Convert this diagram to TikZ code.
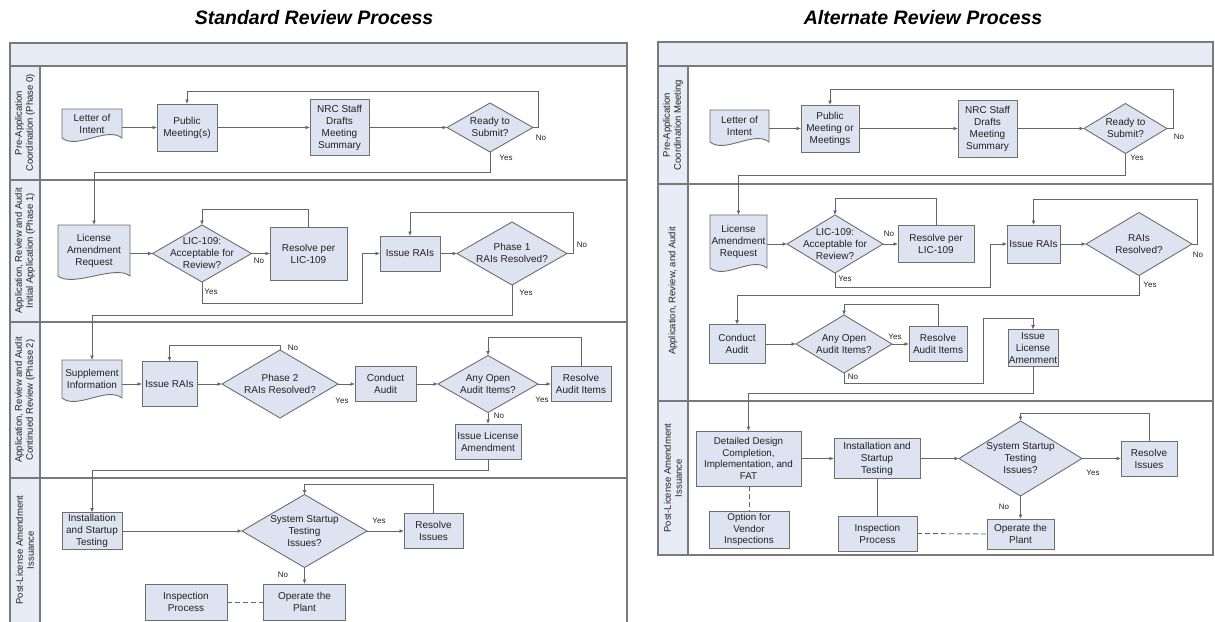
\documentclass[tikz,border=0pt]{standalone}
\usepackage{fontspec}
\setmainfont{Liberation Sans}
\usetikzlibrary{shapes.geometric,arrows.meta,calc}
\definecolor{boxc}{HTML}{DDE3F0}
\definecolor{hdrc}{HTML}{E8ECF6}
\definecolor{bordc}{HTML}{6E6E6E}
\definecolor{lanec}{HTML}{7A7A7A}
\definecolor{linec}{HTML}{666666}
\definecolor{txtc}{HTML}{222222}
\pgfdeclarelayer{lanes}
\pgfdeclarelayer{shapes}
\pgfsetlayers{lanes,shapes,main}
\newcommand{\zt}[1]{\smash{\raisebox{-3.5pt}{\makebox[0pt]{\begin{tabular}{@{}c@{}}#1\end{tabular}}}}}
\newcommand{\docshape}[1]{%
  \begin{pgfonlayer}{shapes}
  \filldraw[docline] (#1.north west) -- (#1.north east) -- (#1.south east)
    .. controls +(-15,-12) and +(15,12) .. (#1.south west) -- cycle;
  \end{pgfonlayer}}
\tikzset{
  txt/.style={font=\fontsize{10}{12}\selectfont, text=txtc},
  sz/.style 2 args={minimum width=#1, minimum height=#2},
  box/.style={txt, draw=bordc, fill=boxc, line width=0.9pt, align=center, inner sep=0pt, outer sep=0pt},
  dia/.style={txt, diamond, draw=bordc, fill=boxc, line width=0.9pt, inner sep=0pt, outer sep=0pt},
  doc/.style={txt, align=center, inner sep=0pt, outer sep=0pt},
  docline/.style={draw=bordc, fill=boxc, line width=0.9pt},
  conn/.style={draw=linec, line width=0.9pt},
  arr/.style={conn, -{Latex[length=4.5pt,width=4pt]}},
  dashln/.style={conn, dash pattern=on 5pt off 3pt},
  lbl/.style={font=\fontsize{8}{9}\selectfont, text=txtc, inner sep=0pt},
  lanetxt/.style={font=\fontsize{9.5}{11}\selectfont, text=txtc, rotate=90, align=center, inner sep=0pt},
  ttl/.style={font=\fontsize{19.5}{22}\selectfont\bfseries\itshape, text=black},
  laneln/.style={draw=lanec, line width=1.4pt},
}
\begin{document}
\begin{tikzpicture}[x=1pt,y=-1pt]
\useasboundingbox (0,0) rectangle (1215,621);
% ---------- lanes ----------
\begin{pgfonlayer}{lanes}
\fill[white] (0,0) rectangle (1215,621);
\fill[hdrc] (10,43) rectangle (627,66);
\fill[hdrc] (10,66) rectangle (40,623);
\draw[laneln] (10,623) -- (10,43) -- (627,43) -- (627,623);
\foreach \yy in {66,180,322,478} \draw[laneln] (10,\yy) -- (627,\yy);
\draw[laneln] (40,66) -- (40,623);
\fill[hdrc] (658,42) rectangle (1213,66);
\fill[hdrc] (658,66) rectangle (688,555);
\draw[laneln] (658,42) rectangle (1213,555);
\foreach \yy in {66,184,401} \draw[laneln] (658,\yy) -- (1213,\yy);
\draw[laneln] (688,66) -- (688,555);
\end{pgfonlayer}
% ---------- titles ----------
\node[ttl] (t1) at (314,18) {Standard Review Process};
\node[ttl] (t2) at (923,18) {Alternate Review Process};
% ---------- lane labels ----------
\node[lanetxt] (ll0) at (25,123) {Pre-Application\\Coordination (Phase 0)};
\node[lanetxt] (ll1) at (25,251) {Application, Review and Audit\\Initial Application (Phase 1)};
\node[lanetxt] (ll2) at (25,400) {Application, Review and Audit\\Continued Review (Phase 2)};
\node[lanetxt] (ll3) at (25,550) {Post-License Amendment\\Issuance};
\node[lanetxt] (rl0) at (673,125) {Pre-Application\\Coordination Meeting};
\node[lanetxt] (rl1) at (673,291) {Application, Review, and Audit};
\node[lanetxt] (rl2) at (673,478) {Post-License Amendment\\Issuance};
% ---------- left: phase 0 ----------
\node[doc, sz={60}{29}] (L0) at (92,123.5) {Letter of\\Intent};
\node[box, sz={60}{47}] (P0) at (187,127.5) {Public\\Meeting(s)};
\node[box, sz={59}{56}] (N0) at (339.5,127.5) {NRC Staff\\Drafts\\Meeting\\Summary};
\node[dia, sz={86}{49}] (R0) at (490,127.5) {\zt{Ready to\\Submit?}};
\node[lbl] (n0) at (541,138) {No};
\node[lbl] (y0) at (506,158) {Yes};
% ---------- left: phase 1 ----------
\node[doc, sz={72}{51}] (L1) at (94,250.5) {License\\Amendment\\Request};
\node[dia, sz={99}{57}] (D1) at (202,253.5) {\zt{LIC-109:\\Acceptable for\\Review?}};
\node[box, sz={77}{53}] (RL1) at (308.5,253.5) {Resolve per\\LIC-109};
\node[box, sz={60}{35}] (IR1) at (410,253.5) {Issue RAIs};
\node[dia, sz={110}{63}] (D2) at (512,253.5) {\zt{Phase 1\\RAIs Resolved?}};
\node[lbl] (n1) at (259,261) {No};
\node[lbl] (y1) at (211,292) {Yes};
\node[lbl] (n2) at (582,245) {No};
\node[lbl] (y2) at (526,293) {Yes};
% ---------- left: phase 2 ----------
\node[doc, sz={60}{38}] (L2) at (92,379) {Supplement\\Information};
\node[box, sz={55}{45}] (IR2) at (169.5,384) {Issue RAIs};
\node[dia, sz={116}{68}] (D3) at (280,384) {\zt{Phase 2\\RAIs Resolved?}};
\node[box, sz={61}{35}] (CA) at (385.5,384) {Conduct\\Audit};
\node[dia, sz={100}{57}] (D4) at (488,384) {\zt{Any Open\\Audit Items?}};
\node[box, sz={60}{35}] (RA) at (581,384) {Resolve\\Audit Items};
\node[box, sz={66}{35}] (IL) at (488,441.5) {Issue License\\Amendment};
\node[lbl] (n3) at (293,348) {No};
\node[lbl] (y3) at (342,401) {Yes};
\node[lbl] (y4) at (542,400) {Yes};
\node[lbl] (n4) at (499,416) {No};
% ---------- left: post ----------
\node[box, sz={60}{37}] (IS) at (92,531) {Installation\\and Startup\\Testing};
\node[dia, sz={125}{73}] (D5) at (304.5,531) {\zt{System Startup\\Testing\\Issues?}};
\node[box, sz={59}{35}] (RI) at (433.5,531) {Resolve\\Issues};
\node[box, sz={82}{36}] (OP) at (304.5,602) {Operate the\\Plant};
\node[box, sz={82}{36}] (IP) at (186,602) {Inspection\\Process};
\node[lbl] (y5) at (379,521) {Yes};
\node[lbl] (n5) at (283,575) {No};
% ---------- right: phase 0 ----------
\node[doc, sz={59}{32}] (rL0) at (739.5,126) {Letter of\\Intent};
\node[box, sz={58}{47}] (rP0) at (830,128.5) {Public\\Meeting or\\Meetings};
\node[box, sz={59}{57}] (rN0) at (987.5,128.5) {NRC Staff\\Drafts\\Meeting\\Summary};
\node[dia, sz={83}{50}] (rR0) at (1125.5,128.5) {\zt{Ready to\\Submit?}};
\node[lbl] (rn0) at (1179,137) {No};
\node[lbl] (ry0) at (1137,158) {Yes};
% ---------- right: application ----------
\node[doc, sz={57}{53}] (rL1) at (738.5,241.5) {License\\Amendment\\Request};
\node[dia, sz={96}{58}] (rD1) at (835,244) {\zt{LIC-109:\\Acceptable for\\Review?}};
\node[box, sz={76}{37}] (rRL) at (936,244) {Resolve per\\LIC-109};
\node[box, sz={53}{38}] (rIR) at (1033.5,244) {Issue RAIs};
\node[dia, sz={106}{63}] (rD2) at (1139,244) {\zt{RAIs\\Resolved?}};
\node[box, sz={56}{39}] (rCA) at (737,344) {Conduct\\Audit};
\node[dia, sz={96}{58}] (rD3) at (844,344) {\zt{Any Open\\Audit Items?}};
\node[box, sz={58}{35}] (rRA) at (938,344) {Resolve\\Audit Items};
\node[box, sz={50}{37}] (rIL) at (1033,348) {Issue\\License\\Amenment};
\node[lbl] (rn1) at (889,234) {No};
\node[lbl] (ry1) at (845,279) {Yes};
\node[lbl] (rn2) at (1198,255) {No};
\node[lbl] (ry2) at (1150,285) {Yes};
\node[lbl] (ry3) at (895,337) {Yes};
\node[lbl] (rn3) at (853,377) {No};
% ---------- right: post ----------
\node[box, sz={105}{55}, font=\fontsize{9.8}{11.7}\selectfont] (rDD) at (748.5,458.5) {Detailed Design\\Completion,\\Implementation, and\\FAT};
\node[box, sz={86}{40}] (rIS) at (877,458.5) {Installation and\\Startup\\Testing};
\node[dia, sz={123}{75}] (rD4) at (1020.5,458.5) {\zt{System Startup\\Testing\\Issues?}};
\node[box, sz={56}{35}] (rRI) at (1149,458.5) {Resolve\\Issues};
\node[box, sz={80}{37}, font=\fontsize{9.8}{11.5}\selectfont] (rOV) at (749,529.5) {Option for\\Vendor\\Inspections};
\node[box, sz={79}{35}] (rIP) at (877.5,533.5) {Inspection\\Process};
\node[box, sz={67}{30}] (rOP) at (1020.5,534) {Operate the\\Plant};
\node[lbl] (ry4) at (1093,473) {Yes};
\node[lbl] (rn4) at (1004,507) {No};
% ---------- document shapes ----------
\docshape{L0}\docshape{L1}\docshape{L2}\docshape{rL0}\docshape{rL1}
% ---------- left connectors ----------
\draw[arr] (L0.east |- P0.west) -- (P0.west);
\draw[arr] (P0.east) -- (N0.west);
\draw[arr] (N0.east) -- (R0.west);
\draw[arr] (R0.east) -- ++(5,0) |- ($(P0.north)+(0,-13)$) -- (P0.north);
\draw[arr] (R0.south) -- ++(0,20) -| (L1.north);
\draw[arr] (L1.east |- D1.west) -- (D1.west);
\draw[arr] (D1.east) -- (RL1.west);
\draw[arr] (RL1.north) -- ++(0,-18) -| (D1.north);
\draw[arr] (D1.south) -- ++(0,21) -| ($(IR1.west)+(-18,0)$) -- (IR1.west);
\draw[arr] (IR1.east) -- (D2.west);
\draw[arr] (D2.east) -- ++(6,0) |- ($(IR1.north)+(0,-24)$) -- (IR1.north);
\draw[arr] (D2.south) -- ++(0,30) -| (L2.north);
\draw[arr] (L2.east |- IR2.west) -- (IR2.west);
\draw[arr] (IR2.east) -- (D3.west);
\draw[arr] (D3.north) -- ++(0,-5) -| (IR2.north);
\draw[arr] (D3.east) -- (CA.west);
\draw[arr] (CA.east) -- (D4.west);
\draw[arr] (D4.east) -- (RA.west);
\draw[arr] (RA.north) -- ++(0,-29) -| (D4.north);
\draw[arr] (D4.south) -- (IL.north);
\draw[arr] (IL.south) -- ++(0,11) -| (IS.north);
\draw[arr] (IS.east) -- (D5.west);
\draw[arr] (D5.east) -- (RI.west);
\draw[arr] (RI.north) -- ++(0,-29) -| (D5.north);
\draw[arr] (D5.south) -- (OP.north);
\draw[dashln] (IP.east) -- (OP.west);
% ---------- right connectors ----------
\draw[arr] (rL0.east |- rP0.west) -- (rP0.west);
\draw[arr] (rP0.east) -- (rN0.west);
\draw[arr] (rN0.east) -- (rR0.west);
\draw[arr] (rR0.east) -- ++(6,0) |- ($(rP0.north)+(0,-16)$) -- (rP0.north);
\draw[arr] (rR0.south) -- ++(0,22) -| (rL1.north);
\draw[arr] (rL1.east |- rD1.west) -- (rD1.west);
\draw[arr] (rD1.east) -- (rRL.west);
\draw[arr] (rRL.north) -- ++(0,-27) -| (rD1.north);
\draw[arr] (rD1.south) -- ++(0,14) -| ($(rIR.west)+(-17,0)$) -- (rIR.west);
\draw[arr] (rIR.east) -- (rD2.west);
\draw[arr] (rD2.east) -- ++(5,0) |- ($(rIR.north)+(0,-26)$) -- (rIR.north);
\draw[arr] (rD2.south) -- ++(0,20) -| (rCA.north);
\draw[arr] (rCA.east) -- (rD3.west);
\draw[arr] (rD3.east) -- (rRA.west);
\draw[arr] (rRA.north) -- ++(0,-22) -| (rD3.north);
\draw[arr] (rD3.south) -- ++(0,10) -| ($(rIL.north)+(-50,-11)$) -| (rIL.north);
\draw[arr] (rIL.south) -- ++(0,27) -| (rDD.north);
\draw[arr] (rDD.east) -- (rIS.west);
\draw[arr] (rIS.east) -- (rD4.west);
\draw[arr] (rD4.east) -- (rRI.west);
\draw[arr] (rRI.north) -- ++(0,-28) -| (rD4.north);
\draw[arr] (rD4.south) -- (rOP.north);
\draw[conn] (rIS.south) -- (rIS.south |- rIP.north);
\draw[dashln] (rDD.south -| rOV.north) -- (rOV.north);
\draw[dashln] (rIP.east) -- (rOP.west);
\end{tikzpicture}
\end{document}
